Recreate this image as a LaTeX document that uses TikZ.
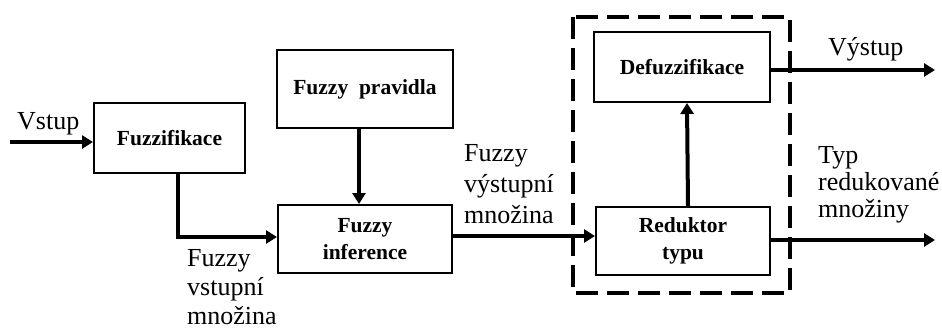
\documentclass[tikz,border=0pt]{standalone}
\usepackage{fontspec}
\setmainfont{Liberation Serif}
\usetikzlibrary{arrows.meta}
\begin{document}
\begin{tikzpicture}[x=1pt,y=-1pt,
  block/.style={draw,line width=2pt,rectangle,inner sep=0pt,
    font=\fontsize{21.5}{27}\selectfont\bfseries,align=center},
  flow/.style={line width=4pt,-{Triangle[length=11pt,width=13pt]}},
  lbl/.style={font=\fontsize{26}{31}\selectfont,align=left,inner sep=0pt},
  group/.style={line width=4pt,dash pattern=on 22pt off 9pt}]
\useasboundingbox (0,0) rectangle (942,330);

% processing blocks
\node[block,minimum width=151pt,minimum height=70pt] (fz)  at (169.5,138) {Fuzzifikace};
\node[block,minimum width=176pt,minimum height=78pt] (pr)  at (365,89)    {Fuzzy\ \ pravidla};
\node[block,minimum width=174pt,minimum height=68pt] (inf) at (365,239)   {Fuzzy\\inference};
\node[block,minimum width=176pt,minimum height=70pt] (def) at (682,67)    {Defuzzifikace};
\node[block,minimum width=174pt,minimum height=68pt] (red) at (683,241)   {Reduktor\\typu};

% output processing group
\draw[group] (573,17) rectangle (790,293);

% free ends of the signal lines
\coordinate (in)   at (10,142);
\coordinate (out1) at (935,70);
\coordinate (out2) at (935,240);

% signal flow
\draw[flow] (in) -- (in -| fz.west);
\draw[flow] ([xshift=8pt]fz.south) |- ([yshift=2pt]inf.west);
\draw[flow] ([xshift=-6pt]pr.south) -- ([xshift=-6pt]inf.north);
\draw[flow] ([yshift=3pt]inf.east) -- ([yshift=3pt]inf.east -| red.west);
\draw[flow] ([xshift=5pt]red.north) -- ([xshift=5pt]def.south);
\draw[flow] (def.east |- out1) -- (out1);
\draw[flow] (red.east |- out2) -- (out2);

% signal labels
\node[lbl,anchor=base west] (lin) at (17,129) {Vstup};
\node[lbl,anchor=north west,font=\fontsize{26}{29}\selectfont] (lfs) at (187,249) {Fuzzy\\vstupní\\množina};
\node[lbl,anchor=north west] (lfo) at (464,144) {Fuzzy\\výstupní\\množina};
\node[lbl,anchor=base west] (lout) at (828,55) {Výstup};
\node[lbl,anchor=north west,font=\fontsize{26}{27}\selectfont] (ltr) at (818,146) {Typ\\redukované\\množiny};
\end{tikzpicture}
\end{document}
